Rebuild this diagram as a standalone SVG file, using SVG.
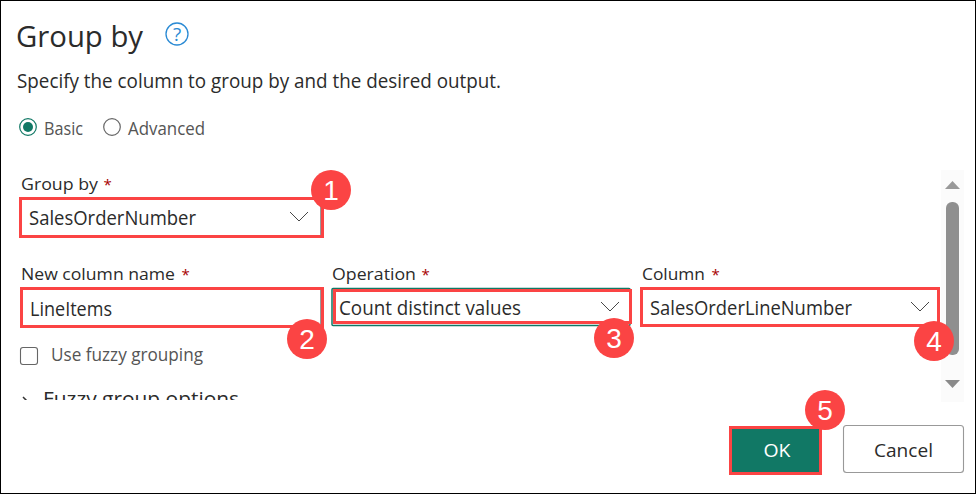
<svg xmlns="http://www.w3.org/2000/svg" width="976" height="494" viewBox="0 0 976 494">
<defs>
<style>
text{font-family:"Open Sans","Noto Sans","Liberation Sans",sans-serif;fill:#242424}
.b{font-size:20px;fill:#2b2b2b}
.l{font-size:17px;font-weight:500;fill:#2b2b2b}
.s{font-size:15px;fill:#a80000}
.g{font-size:18px;fill:#555}
.red{fill:none;stroke:#fb4444;stroke-width:3}
.chev{fill:none;stroke:#333;stroke-width:0.9}
.bd{fill:#fb4444}
.bt{font-family:"Liberation Sans",Arial,sans-serif;font-size:28px;fill:#fff;text-anchor:middle}
</style>
<clipPath id="c"><rect x="0" y="300" width="940" height="100"/></clipPath>
</defs>
<rect x="0" y="0" width="976" height="494" fill="#fff"/>
<rect x="0.500" y="0.500" width="975" height="493" fill="none" stroke="#000"/>
<g id="header">
<text x="16" y="47" font-size="30" textLength="127" lengthAdjust="spacingAndGlyphs" style="fill:#2b2b2b">Group by</text>
<circle cx="177" cy="34" r="11" fill="none" stroke="#2a8ad4" stroke-width="1.300"/>
<text x="177" y="41" font-size="19" text-anchor="middle" style="fill:#2a8ad4">?</text>
<text x="17" y="88" font-size="20.500" textLength="484" lengthAdjust="spacingAndGlyphs" style="fill:#2b2b2b">Specify the column to group by and the desired output.</text>
</g>
<g id="mode">
<circle cx="28" cy="127" r="8.300" fill="#fff" stroke="#117865" stroke-width="1.200"/>
<circle cx="28" cy="127" r="5" fill="#117865"/>
<text x="44" y="135" class="g" textLength="39" lengthAdjust="spacingAndGlyphs">Basic</text>
<circle cx="112" cy="127" r="8.300" fill="#fff" stroke="#666" stroke-width="1.200"/>
<text x="128" y="135" class="g" textLength="77" lengthAdjust="spacingAndGlyphs">Advanced</text>
</g>
<g id="groupby-field">
<text x="21" y="190" class="l" textLength="77" lengthAdjust="spacingAndGlyphs">Group by</text>
<text x="103.500" y="190" class="s">*</text>
<path d="M320.500 199V236H22" fill="none" stroke="#999"/>
<text x="29" y="225" class="b" textLength="167" lengthAdjust="spacingAndGlyphs">SalesOrderNumber</text>
<path d="M290 212L299 221L308 212" class="chev"/>
<rect x="20.500" y="198.500" width="302" height="38" class="red"/>
</g>
<g id="newcol-field">
<text x="21" y="280" class="l" textLength="154" lengthAdjust="spacingAndGlyphs">New column name</text>
<text x="181.500" y="280" class="s">*</text>
<path d="M320.500 289V326" fill="none" stroke="#999"/>
<text x="30" y="316" class="b" textLength="82" lengthAdjust="spacingAndGlyphs">LineItems</text>
<rect x="21.500" y="288.500" width="301" height="38" class="red"/>
</g>
<g id="fuzzy">
<rect x="20.500" y="347.500" width="17" height="17" rx="2.500" fill="#fff" stroke="#666" stroke-width="1.100"/>
<text x="51" y="361" class="g" textLength="152" lengthAdjust="spacingAndGlyphs">Use fuzzy grouping</text>
<g clip-path="url(#c)">
<path d="M23 397L29 403L23 409" fill="none" stroke="#333" stroke-width="1.500"/>
<text x="43" y="406" font-size="20.500" textLength="196" lengthAdjust="spacingAndGlyphs" style="fill:#2b2b2b">Fuzzy group options</text>
</g>
</g>
<g id="operation-field">
<text x="332" y="280" class="l" textLength="84" lengthAdjust="spacingAndGlyphs">Operation</text>
<text x="421.500" y="280" class="s">*</text>
<rect x="332" y="288.500" width="298" height="37" rx="1" fill="#fff" stroke="#117865" stroke-width="1.500"/>
<text x="339" y="315" class="b" textLength="182" lengthAdjust="spacingAndGlyphs">Count distinct values</text>
<path d="M601 302L610 311L619 302" class="chev"/>
<rect x="334.500" y="290.500" width="296" height="32" class="red"/>
</g>
<g id="column-field">
<text x="642" y="280" class="l" textLength="63" lengthAdjust="spacingAndGlyphs">Column</text>
<text x="711.500" y="280" class="s">*</text>
<text x="650" y="315" class="b" textLength="202" lengthAdjust="spacingAndGlyphs">SalesOrderLineNumber</text>
<path d="M911 302L920 311L929 302" class="chev"/>
<rect x="641.500" y="288.500" width="297" height="37" class="red"/>
</g>
<g id="scrollbar">
<rect x="941" y="170" width="23" height="232" fill="#fbfbfb"/>
<rect x="946" y="202" width="13" height="153" rx="6" fill="#8f8f8f"/>
<path d="M945 189L952.500 181L960 189Z" fill="#999"/>
<path d="M945 380L952.500 388L960 380Z" fill="#8a8a8a"/>
</g>
<g id="ok-button">
<rect x="730.500" y="427.500" width="90" height="46" fill="#117865" stroke="#fb4444" stroke-width="3"/>
<text x="777" y="457" font-size="18.500" text-anchor="middle" textLength="27" lengthAdjust="spacingAndGlyphs" style="fill:#fff">OK</text>
</g>
<g id="cancel-button">
<rect x="843.500" y="425.500" width="120" height="47" rx="3" fill="#fff" stroke="#999" stroke-width="1.100"/>
<text x="874" y="457" font-size="19" textLength="59" lengthAdjust="spacingAndGlyphs" style="fill:#2b2b2b">Cancel</text>
</g>
<g id="badge-1"><circle cx="331" cy="190" r="20" class="bd"/><text x="331" y="200" class="bt">1</text></g>
<g id="badge-2"><circle cx="307" cy="339" r="20" class="bd"/><text x="307" y="349" class="bt">2</text></g>
<g id="badge-3"><circle cx="614" cy="338" r="20" class="bd"/><text x="614" y="348" class="bt">3</text></g>
<g id="badge-4"><circle cx="934" cy="341" r="20" class="bd"/><text x="934" y="351" class="bt">4</text></g>
<g id="badge-5"><circle cx="825" cy="410" r="20" class="bd"/><text x="825" y="420" class="bt">5</text></g>
</svg>
